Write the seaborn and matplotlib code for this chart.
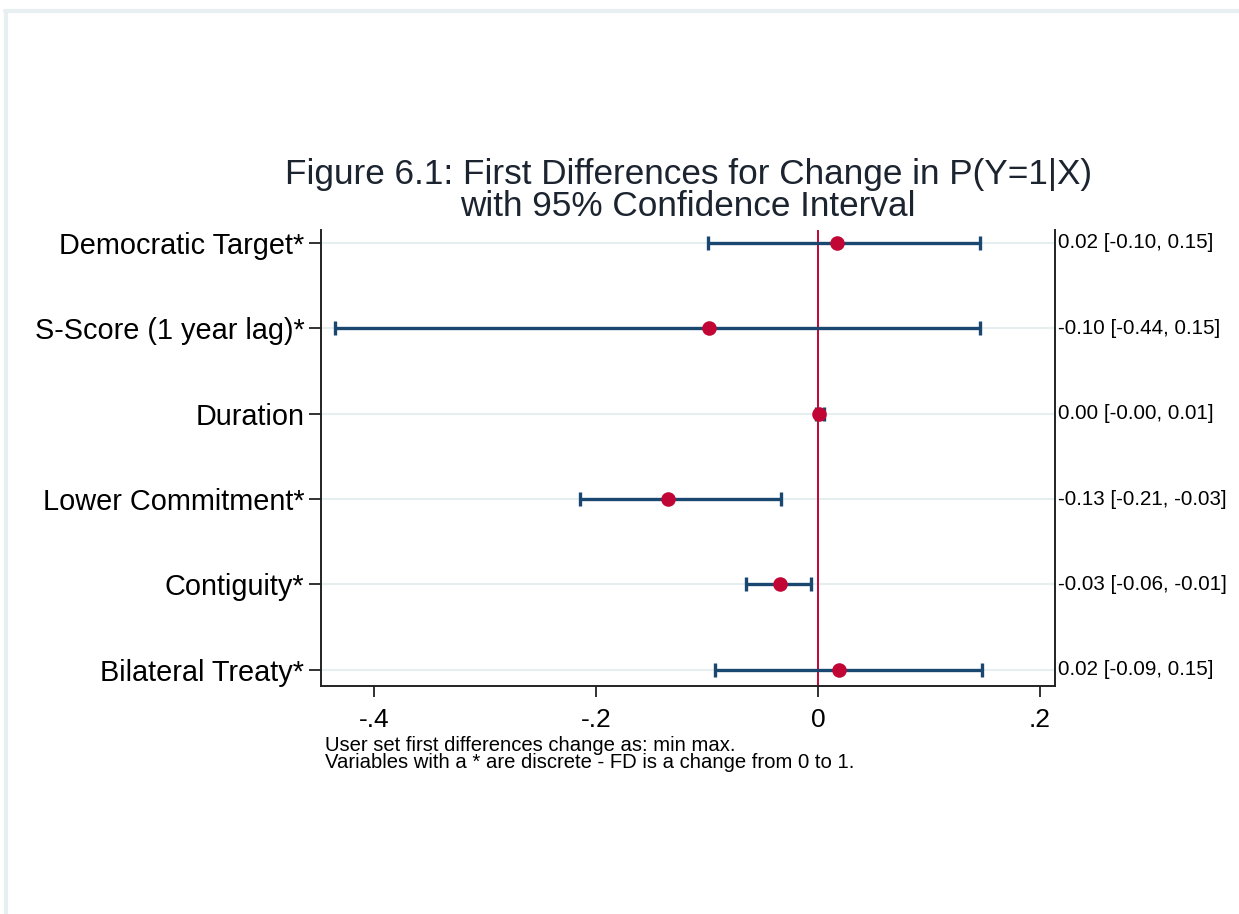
import matplotlib
matplotlib.use("Agg")
import matplotlib.pyplot as plt
from matplotlib.lines import Line2D
from matplotlib.transforms import blended_transform_factory
import seaborn as sns
import pandas as pd

variables = ["Democratic Target*", "S-Score (1 year lag)*", "Duration",
             "Lower Commitment*", "Contiguity*", "Bilateral Treaty*"]
estimates = [0.017, -0.098, 0.001, -0.135, -0.034, 0.019]
ci_lower = [-0.099, -0.436, -0.002, -0.215, -0.065, -0.093]
ci_upper = [0.146, 0.146, 0.005, -0.033, -0.006, 0.148]
value_labels = ["0.02 [-0.10, 0.15]", "-0.10 [-0.44, 0.15]", "0.00 [-0.00, 0.01]",
                "-0.13 [-0.21, -0.03]", "-0.03 [-0.06, -0.01]", "0.02 [-0.09, 0.15]"]
xticks = [-0.4, -0.2, 0.0, 0.2]
xtick_labels = ["-.4", "-.2", "0", ".2"]
title = "Figure 6.1: First Differences for Change in P(Y=1|X)\nwith 95% Confidence Interval"
notes = ("User set first differences change as: min max.\n"
         "Variables with a * are discrete - FD is a change from 0 to 1.")

df = pd.DataFrame({"variable": variables, "estimate": estimates,
                   "lo": ci_lower, "hi": ci_upper, "pos": range(len(variables))})

sns.set_theme(style="white")
plt.rcParams["font.family"] = ["Liberation Sans", "DejaVu Sans"]

navy = "#1a476f"
cranberry = "#c10534"
grid_c = "#e6eef0"
text_c = "#1c2430"

fig = plt.figure(figsize=(12.39, 9.14), dpi=100)
fig.patch.set_facecolor("white")
ax = fig.add_axes([0.2591, 0.2495, 0.5924, 0.4989])

# grid lines at each row
for p in df["pos"]:
    ax.axhline(p, color=grid_c, lw=1.5, zorder=0)

ax.axvline(0, color=cranberry, lw=1.4, zorder=1)

ax.errorbar(df["estimate"], df["pos"],
            xerr=[df["estimate"] - df["lo"], df["hi"] - df["estimate"]],
            fmt="none", ecolor=navy, elinewidth=2.4, capsize=5, capthick=2.4, zorder=2)
sns.scatterplot(data=df, x="estimate", y="pos", ax=ax, color=cranberry, marker="o",
                s=110, edgecolor=cranberry, linewidth=0, zorder=3, legend=False)

ax.set_xlim(-0.4482, 0.2137)
ax.set_ylim(5.19, -0.152)
ax.set_yticks(df["pos"])
ax.set_yticklabels(variables, fontsize=20.8, color="black")
ax.set_xticks(xticks)
ax.set_xticklabels(xtick_labels, fontsize=19, color="black")
ax.set_xlabel("")
ax.set_ylabel("")

ax.tick_params(axis="y", which="both", left=True, length=9, width=1.3, color="#222222", pad=3)
ax.tick_params(axis="x", which="both", bottom=True, length=8, width=1.3, color="#222222", pad=8)

for side in ["left", "right", "bottom"]:
    ax.spines[side].set_visible(True)
    ax.spines[side].set_color("#222222")
    ax.spines[side].set_linewidth(1.4)
ax.spines["top"].set_visible(False)

trans = blended_transform_factory(ax.transAxes, ax.transData)
for p, lab in zip(df["pos"], value_labels):
    ax.text(1.004, p, lab, transform=trans, ha="left", va="center",
            fontsize=14.8, color="black")

ax.set_title(title, fontsize=25.3, color=text_c, pad=10, linespacing=0.98)

ax.text(0.006, -0.11, notes, transform=ax.transAxes, ha="left", va="top",
        fontsize=14.6, color="black", linespacing=0.88)

# light outer frame of the screenshot
fig.add_artist(Line2D([5 / 1239, 1.0], [1 - 11 / 914, 1 - 11 / 914],
                      transform=fig.transFigure, color="#e8eff1", lw=3))
fig.add_artist(Line2D([6 / 1239, 6 / 1239], [0.0, 1 - 11 / 914],
                      transform=fig.transFigure, color="#e8eff1", lw=3))

fig.savefig("out.png", dpi=100, facecolor="white")
